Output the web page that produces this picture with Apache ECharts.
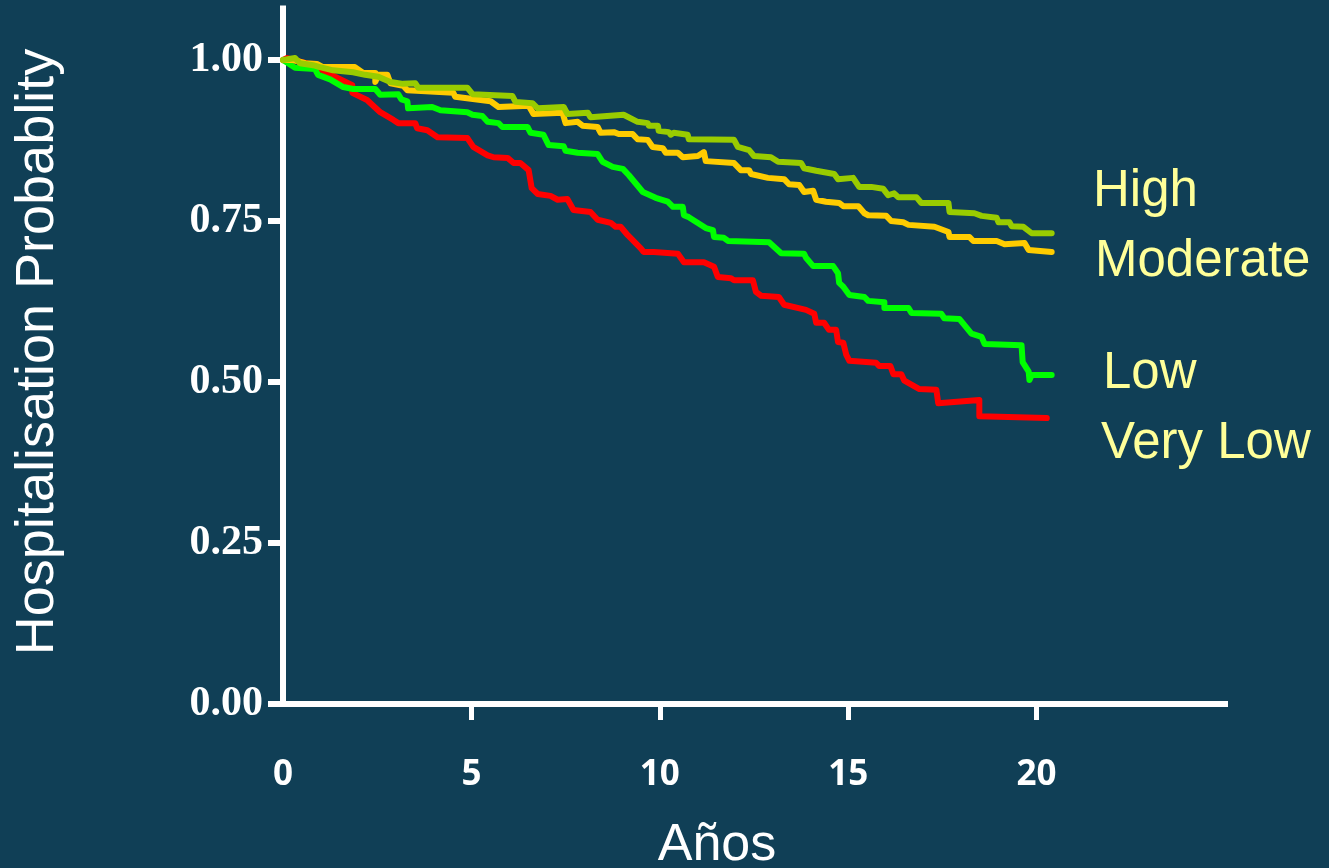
<!DOCTYPE html>
<html>
<head>
<meta charset="utf-8">
<script src="https://cdn.jsdelivr.net/npm/echarts@6/dist/echarts.min.js"></script>
<style>
html,body{margin:0;padding:0;background:#103f56;}
#chart{width:1329px;height:868px;}
</style>
</head>
<body>
<div id="chart"></div>
<script>
// ---- data (years, probability) ----
var seriesNames = ['Very Low', 'Low', 'Moderate', 'High'];
var xTickValues = [5, 10, 15, 20];
var xLabelValues = [0, 5, 10, 15, 20];
var yTickValues = [0, 0.25, 0.5, 0.75, 1.0];

var veryLow = [[0,1.0],[0.11,1.003],[0.80,0.992],[1.38,0.974],[1.84,0.961],[1.84,0.949],[2.23,0.938],[2.58,0.919],[2.93,0.907],[3.06,0.902],[3.51,0.902],[3.56,0.894],[3.83,0.891],[4.10,0.880],[4.89,0.879],[5.05,0.865],[5.43,0.852],[5.59,0.849],[5.96,0.848],[6.12,0.840],[6.30,0.840],[6.52,0.829],[6.60,0.801],[6.76,0.792],[7.10,0.789],[7.29,0.783],[7.55,0.784],[7.71,0.767],[8.16,0.764],[8.35,0.752],[8.70,0.747],[8.83,0.741],[8.96,0.741],[9.15,0.728],[9.49,0.708],[9.57,0.702],[9.84,0.702],[9.89,0.699],[10.48,0.699],[10.64,0.686],[11.17,0.686],[11.44,0.679],[11.54,0.663],[11.89,0.661],[11.97,0.658],[12.47,0.658],[12.55,0.640],[12.69,0.634],[13.16,0.632],[13.30,0.620],[13.88,0.612],[14.10,0.606],[14.15,0.592],[14.36,0.592],[14.49,0.581],[14.68,0.581],[14.73,0.562],[14.87,0.561],[14.95,0.542],[15.03,0.533],[15.74,0.530],[15.82,0.525],[16.12,0.525],[16.20,0.512],[16.41,0.512],[16.49,0.502],[16.89,0.489],[17.34,0.488],[17.39,0.467],[18.48,0.472],[18.48,0.447],[20.27,0.444]];

var low = [[0,1.0],[0.32,0.988],[0.85,0.986],[0.93,0.977],[1.25,0.970],[1.60,0.958],[1.86,0.955],[2.45,0.955],[2.58,0.946],[3.06,0.947],[3.14,0.939],[3.30,0.936],[3.32,0.925],[3.96,0.927],[4.18,0.922],[4.89,0.919],[5.03,0.915],[5.29,0.913],[5.43,0.904],[5.72,0.902],[5.82,0.896],[6.49,0.896],[6.57,0.887],[6.91,0.884],[7.05,0.868],[7.45,0.866],[7.50,0.859],[7.82,0.856],[8.35,0.854],[8.48,0.842],[8.75,0.834],[9.02,0.831],[9.18,0.821],[9.55,0.795],[9.89,0.786],[10.21,0.780],[10.35,0.772],[10.61,0.772],[10.64,0.759],[10.77,0.756],[11.22,0.739],[11.41,0.736],[11.44,0.725],[11.70,0.724],[11.81,0.719],[12.90,0.717],[13.22,0.700],[13.83,0.699],[13.88,0.693],[14.07,0.680],[14.60,0.680],[14.73,0.669],[14.76,0.654],[14.87,0.648],[15.03,0.635],[15.43,0.632],[15.53,0.626],[15.96,0.624],[15.96,0.615],[16.60,0.615],[16.68,0.607],[17.47,0.606],[17.55,0.599],[17.95,0.598],[18.27,0.575],[18.54,0.570],[18.62,0.559],[19.60,0.557],[19.63,0.531],[19.79,0.516],[19.81,0.503],[19.87,0.511],[20.40,0.511]];

var moderate = [[0,1.0],[0.27,1.000],[0.59,0.995],[0.90,0.994],[1.06,0.989],[1.91,0.989],[2.13,0.980],[2.45,0.980],[2.45,0.966],[2.53,0.977],[2.77,0.977],[2.85,0.964],[3.19,0.960],[3.30,0.953],[4.52,0.949],[4.57,0.943],[5.51,0.936],[5.72,0.927],[6.52,0.929],[6.65,0.916],[7.42,0.918],[7.50,0.902],[7.82,0.904],[7.95,0.898],[8.35,0.896],[8.43,0.887],[8.78,0.888],[8.91,0.885],[9.28,0.885],[9.41,0.877],[9.68,0.876],[9.81,0.865],[10.08,0.863],[10.16,0.856],[10.48,0.856],[10.61,0.849],[11.01,0.851],[11.17,0.857],[11.22,0.843],[11.97,0.840],[12.15,0.829],[12.37,0.829],[12.42,0.823],[12.87,0.817],[13.30,0.815],[13.43,0.807],[13.70,0.806],[13.83,0.795],[14.07,0.797],[14.15,0.783],[14.41,0.780],[14.76,0.778],[14.87,0.773],[15.27,0.773],[15.43,0.762],[15.53,0.759],[16.01,0.758],[16.14,0.750],[16.46,0.748],[16.60,0.744],[17.29,0.741],[17.66,0.733],[17.69,0.725],[18.22,0.725],[18.32,0.719],[18.94,0.719],[19.15,0.714],[19.68,0.716],[19.79,0.705],[20.40,0.702]];

var high = [[0,1.0],[0.32,1.003],[0.45,0.995],[0.80,0.992],[0.98,0.989],[1.33,0.984],[1.86,0.981],[2.18,0.977],[2.53,0.974],[2.85,0.966],[3.19,0.963],[3.51,0.964],[3.59,0.957],[4.89,0.957],[5.03,0.947],[6.09,0.944],[6.17,0.935],[6.62,0.933],[6.76,0.925],[7.45,0.927],[7.55,0.916],[8.09,0.918],[8.16,0.911],[9.04,0.915],[9.41,0.904],[9.68,0.902],[9.71,0.898],[9.95,0.898],[9.97,0.890],[10.24,0.888],[10.29,0.884],[10.37,0.887],[10.74,0.884],[10.77,0.877],[11.97,0.876],[12.07,0.865],[12.37,0.860],[12.50,0.851],[12.95,0.849],[13.14,0.842],[13.75,0.840],[13.83,0.832],[14.15,0.828],[14.63,0.823],[14.73,0.815],[15.13,0.817],[15.29,0.803],[15.61,0.803],[15.93,0.800],[16.06,0.790],[16.22,0.793],[16.33,0.787],[16.81,0.787],[16.94,0.778],[17.66,0.778],[17.69,0.764],[18.35,0.762],[18.54,0.758],[18.94,0.755],[18.99,0.748],[19.28,0.748],[19.34,0.742],[19.65,0.741],[19.87,0.731],[20.40,0.731]];

var seriesData = [veryLow, low, moderate, high];
var seriesColors = ['#ff0000', '#00ff00', '#ffcc00', '#99cc00'];

var chart = echarts.init(document.getElementById('chart'));
var lineSeries = seriesData.map(function (d, i) {
  return {
    name: seriesNames[i],
    type: 'line',
    data: d,
    showSymbol: false,
    symbol: 'none',
    smooth: false,
    lineStyle: { color: seriesColors[i], width: 6, cap: 'round', join: 'round' },
    z: 2 + i
  };
});

chart.setOption({
  backgroundColor: '#103f56',
  animation: false,
  grid: { left: 283, right: 104, top: 8.5, bottom: 164, containLabel: false },
  xAxis: {
    type: 'value', min: 0, max: 25, interval: 5,
    axisLine: { show: true, onZero: false, lineStyle: { color: '#ffffff', width: 6, cap: 'square' } },
    axisTick: { show: true, inside: false, length: 16, customValues: xTickValues, lineStyle: { color: '#ffffff', width: 5 } },
    axisLabel: { customValues: xLabelValues, margin: 54, color: '#ffffff', fontFamily: 'Open Sans', fontWeight: 'bold', fontSize: 35 },
    splitLine: { show: false }
  },
  yAxis: {
    type: 'value', min: 0, max: 1.08, interval: 0.25,
    axisLine: { show: true, lineStyle: { color: '#ffffff', width: 6, cap: 'square' } },
    axisTick: { show: true, inside: false, length: 15, customValues: yTickValues, lineStyle: { color: '#ffffff', width: 6 } },
    axisLabel: { customValues: yTickValues, margin: 20, color: '#ffffff', fontFamily: 'Liberation Serif', fontWeight: 'bold', fontSize: 42,
      formatter: function (v) { return v.toFixed(2); } },
    splitLine: { show: false }
  },
  graphic: [
    { type: 'text', x: 38, y: 352, rotation: Math.PI / 2,
      style: { text: 'Hospitalisation Probablity', fill: '#ffffff', font: '54px "Liberation Sans", Arial, sans-serif', align: 'center', verticalAlign: 'middle' } },
    { type: 'text', x: 717, y: 846,
      style: { text: 'Años', fill: '#ffffff', font: '52px "Liberation Sans", Arial, sans-serif', align: 'center', verticalAlign: 'middle' } },
    { type: 'text', x: 1093, y: 192,
      style: { text: 'High', fill: '#ffff99', font: '51px "Liberation Sans", Arial, sans-serif', align: 'left', verticalAlign: 'middle' } },
    { type: 'text', x: 1095, y: 262,
      style: { text: 'Moderate', fill: '#ffff99', font: '51px "Liberation Sans", Arial, sans-serif', align: 'left', verticalAlign: 'middle' } },
    { type: 'text', x: 1103, y: 374,
      style: { text: 'Low', fill: '#ffff99', font: '51px "Liberation Sans", Arial, sans-serif', align: 'left', verticalAlign: 'middle' } },
    { type: 'text', x: 1101, y: 444,
      style: { text: 'Very Low', fill: '#ffff99', font: '51px "Liberation Sans", Arial, sans-serif', align: 'left', verticalAlign: 'middle' } }
  ],
  series: lineSeries
});
</script>
</body>
</html>
